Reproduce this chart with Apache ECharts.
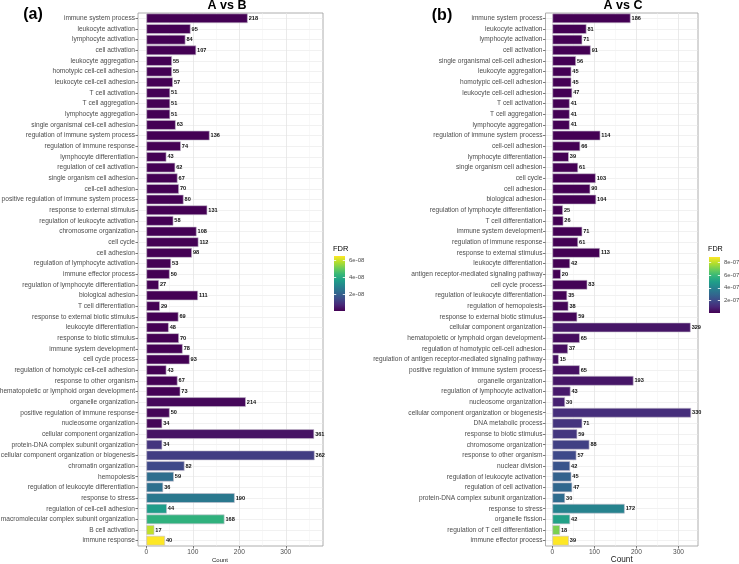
<!DOCTYPE html>
<html>
<head>
<meta charset="utf-8">
<script src="https://cdn.jsdelivr.net/npm/echarts@6/dist/echarts.min.js"></script>
<style>html,body{margin:0;padding:0;background:#fff;}#c{width:739px;height:564px;}</style>
</head>
<body>
<div id="c"></div>
<script>
const catsA = ["immune system process","leukocyte activation","lymphocyte activation","cell activation","leukocyte aggregation","homotypic cell-cell adhesion","leukocyte cell-cell adhesion","T cell activation","T cell aggregation","lymphocyte aggregation","single organismal cell-cell adhesion","regulation of immune system process","regulation of immune response","lymphocyte differentiation","regulation of cell activation","single organism cell adhesion","cell-cell adhesion","positive regulation of immune system process","response to external stimulus","regulation of leukocyte activation","chromosome organization","cell cycle","cell adhesion","regulation of lymphocyte activation","immune effector process","regulation of lymphocyte differentiation","biological adhesion","T cell differentiation","response to external biotic stimulus","leukocyte differentiation","response to biotic stimulus","immune system development","cell cycle process","regulation of homotypic cell-cell adhesion","response to other organism","hematopoietic or lymphoid organ development","organelle organization","positive regulation of immune response","nucleosome organization","cellular component organization","protein-DNA complex subunit organization","cellular component organization or biogenesis","chromatin organization","hemopoiesis","regulation of leukocyte differentiation","response to stress","regulation of cell-cell adhesion","macromolecular complex subunit organization","B cell activation","immune response"];
const countA = [218,95,84,107,55,55,57,51,51,51,63,136,74,43,62,67,70,80,131,58,108,112,98,53,50,27,111,29,69,48,70,78,93,43,67,73,214,50,34,361,34,362,82,59,36,190,44,168,17,40];
const fdrA = [1e-20,2e-18,3e-17,5e-17,1e-15,1e-15,2e-15,3e-14,3e-14,3e-14,5e-14,8e-14,1e-13,2e-13,3e-13,4e-13,5e-13,6e-13,8e-13,1e-12,2e-12,3e-12,4e-12,6e-12,8e-12,1e-11,1.2e-11,1.5e-11,2e-11,3e-11,4e-11,6e-11,8e-11,1e-10,1.5e-10,2.5e-10,1.3e-9,6.5e-10,7e-10,3.3e-9,9.8e-9,1.17e-8,1.43e-8,2.34e-8,2.4e-8,2.6e-8,3.58e-8,4.16e-8,5.9e-8,6.5e-8];

const catsB = ["immune system process","leukocyte activation","lymphocyte activation","cell activation","single organismal cell-cell adhesion","leukocyte aggregation","homotypic cell-cell adhesion","leukocyte cell-cell adhesion","T cell activation","T cell aggregation","lymphocyte aggregation","regulation of immune system process","cell-cell adhesion","lymphocyte differentiation","single organism cell adhesion","cell cycle","cell adhesion","biological adhesion","regulation of lymphocyte differentiation","T cell differentiation","immune system development","regulation of immune response","response to external stimulus","leukocyte differentiation","antigen receptor-mediated signaling pathway","cell cycle process","regulation of leukocyte differentiation","regulation of hemopoiesis","response to external biotic stimulus","cellular component organization","hematopoietic or lymphoid organ development","regulation of homotypic cell-cell adhesion","regulation of antigen receptor-mediated signaling pathway","positive regulation of immune system process","organelle organization","regulation of lymphocyte activation","nucleosome organization","cellular component organization or biogenesis","DNA metabolic process","response to biotic stimulus","chromosome organization","response to other organism","nuclear division","regulation of leukocyte activation","regulation of cell activation","protein-DNA complex subunit organization","response to stress","organelle fission","regulation of T cell differentiation","immune effector process"];
const countB = [186,81,71,91,56,45,45,47,41,41,41,114,66,39,61,103,90,104,25,26,71,61,113,42,20,83,35,38,59,329,65,37,15,65,193,43,30,330,71,59,88,57,42,45,47,30,172,42,18,39];
const fdrB = [1e-18,2e-16,3e-15,5e-15,1e-14,2e-14,2e-14,3e-14,5e-14,5e-14,5e-14,8e-14,1e-13,2e-13,3e-13,4e-13,5e-13,6e-13,8e-13,1e-12,2e-12,3e-12,4e-12,6e-12,8e-12,5e-9,7e-9,9e-9,1.2e-8,5.3e-8,2.7e-8,3.1e-8,3.6e-8,4.0e-8,5.3e-8,6.2e-8,8.0e-8,1.16e-7,1.34e-7,1.42e-7,1.69e-7,1.96e-7,2.31e-7,2.76e-7,2.94e-7,3.12e-7,4.0e-7,5.07e-7,7.12e-7,8.9e-7];

const countTicks = [0,100,200,300];
const countMinor = [50,150,250,350];
const fdrTicksA = [2e-8,4e-8,6e-8];
const fdrTicksB = [2e-7,4e-7,6e-7,8e-7];
const fdrMaxA = 6.5e-8;
const fdrMaxB = 8.9e-7;

const viridis = ['#440154','#482878','#3E4A89','#31688E','#26828E','#1F9E89','#35B779','#6DCD59','#B4DE2C','#FDE725'];
const FONT = "'Liberation Sans', Arial, Helvetica, sans-serif";

function sci(v){
  const s = v.toExponential(0).split('e');
  const sign = s[1][0];
  const d = s[1].slice(1).padStart(2,'0');
  return s[0] + 'e' + sign + d;
}
function rangeOf(arr){ const m = Math.max.apply(null, arr); return [-0.05*m, 1.05*m]; }

const rA = rangeOf(countA), rB = rangeOf(countB);

function mainX(grid, r, padR, nameSize, nameGap){
  return {
    type:'value', gridIndex:grid, min:r[0], max:r[1], position:'bottom',
    axisLine:{show:false, onZero:false},
    axisTick:{show:true, length:2.5, customValues:countTicks, lineStyle:{color:'#555', width:0.8}},
    axisLabel:{customValues:countTicks, fontSize:6.6, color:'#4d4d4d', margin:2.5, fontFamily:FONT},
    splitLine:{show:true, customValues:countTicks, lineStyle:{color:'#e4e4e4', width:0.8}},
    name:'Count', nameLocation:'middle', nameGap:nameGap, nameMoveOverlap:false,
    nameTextStyle:{fontSize:nameSize, color:'#1a1a1a', fontFamily:FONT, padding:[0,padR,0,0]}
  };
}
function minorX(grid, r){
  return {
    type:'value', gridIndex:grid, min:r[0], max:r[1], position:'top',
    axisLine:{show:false, onZero:false}, axisLabel:{show:false},
    axisTick:{show:false, customValues:countMinor},
    splitLine:{show:true, customValues:countMinor, lineStyle:{color:'#f1f1f1', width:0.5}}
  };
}
function catY(grid, cats){
  return {
    type:'category', gridIndex:grid, data:cats, inverse:true,
    axisLine:{show:false, onZero:false},
    axisTick:{show:true, alignWithLabel:true, length:2.5, lineStyle:{color:'#555', width:0.8}},
    axisLabel:{interval:0, fontSize:6.6, color:'#4d4d4d', margin:3, fontFamily:FONT},
    splitLine:{show:false}
  };
}
function gridY(grid, cats){
  const idx = cats.map((_, i) => i);
  return {
    type:'value', gridIndex:grid, min:-0.5, max:cats.length-0.5, inverse:true, position:'right',
    axisLine:{show:false, onZero:false}, axisLabel:{show:false},
    axisTick:{show:false, customValues:idx},
    splitLine:{show:true, customValues:idx, lineStyle:{color:'#e8e8e8', width:0.6}}
  };
}
function cbY(grid, max, ticks, right){
  return {
    type:'value', gridIndex:grid, min:0, max:max, position: right ? 'right' : 'left', z:10,
    axisLine:{show:false, onZero:false},
    axisTick:{show:true, inside:true, length:2.2, customValues:ticks, lineStyle:{color:'#ffffff', width:0.8}},
    axisLabel:{show:right, customValues:ticks, formatter:sci, fontSize:6, color:'#4d4d4d', margin:4, fontFamily:FONT},
    splitLine:{show:false}
  };
}
function cbX(grid){
  return {type:'category', gridIndex:grid, data:['FDR'], show:false, axisLine:{onZero:false}};
}
function barSeries(xi, yi, cats, counts, fdrs){
  return {
    type:'bar', xAxisIndex:xi, yAxisIndex:yi,
    data: cats.map((c, i) => [counts[i], c, fdrs[i]]),
    encode:{x:0, y:1},
    barCategoryGap:'10%',
    itemStyle:{borderColor:'#c6c0cc', borderWidth:0.6},
    label:{show:true, position:'right', distance:1, formatter:p => p.value[0],
      fontSize:5.6, fontWeight:'bold', color:'#111', fontFamily:FONT},
    z:2
  };
}
function colorbarSeries(xi, yi, max){
  const stops = viridis.map((c, i) => ({offset: i/(viridis.length-1), color: c}));
  return {
    type:'bar', xAxisIndex:xi, yAxisIndex:yi, barWidth:'100%', silent:true,
    data:[max],
    itemStyle:{color: new echarts.graphic.LinearGradient(0, 1, 0, 0, stops)},
    z:2
  };
}
function txt(x, y, s, size, bold, align){
  return {type:'text', x:x, y:y, silent:true,
    style:{text:s, fontSize:size, fontWeight: bold ? 'bold' : 'normal', fontFamily:FONT,
      fill:'#000', textAlign:align || 'center', textVerticalAlign:'middle'}};
}

const chart = echarts.init(document.getElementById('c'), null, {renderer:'canvas'});
const option = {
  animation:false,
  backgroundColor:'#ffffff',
  textStyle:{fontFamily:FONT},
  grid:[
    {left:138, top:13, width:185, height:533, show:true, borderColor:'#9a9a9a', borderWidth:0.8, backgroundColor:'#fff', outerBoundsMode:'none', containLabel:false},
    {left:545.5, top:13, width:152.5, height:533, show:true, borderColor:'#9a9a9a', borderWidth:0.8, backgroundColor:'#fff', outerBoundsMode:'none', containLabel:false},
    {left:334, top:256, width:11, height:55, show:false, outerBoundsMode:'none'},
    {left:709, top:257, width:11, height:56, show:false, outerBoundsMode:'none'}
  ],
  xAxis:[
    mainX(0, rA, 21, 6, 11),
    minorX(0, rA),
    mainX(1, rB, 0, 8.2, 10),
    minorX(1, rB),
    cbX(2),
    cbX(3)
  ],
  yAxis:[
    catY(0, catsA), gridY(0, catsA),
    catY(1, catsB), gridY(1, catsB),
    cbY(2, fdrMaxA, fdrTicksA, true), cbY(2, fdrMaxA, fdrTicksA, false),
    cbY(3, fdrMaxB, fdrTicksB, true), cbY(3, fdrMaxB, fdrTicksB, false)
  ],
  visualMap:[
    {type:'continuous', show:false, seriesIndex:0, dimension:2, min:0, max:fdrMaxA, inRange:{color:viridis}},
    {type:'continuous', show:false, seriesIndex:1, dimension:2, min:0, max:fdrMaxB, inRange:{color:viridis}}
  ],
  series:[
    barSeries(0, 0, catsA, countA, fdrA),
    barSeries(2, 2, catsB, countB, fdrB),
    colorbarSeries(4, 4, fdrMaxA),
    colorbarSeries(5, 6, fdrMaxB)
  ],
  graphic:[
    txt(33, 15, '(a)', 16, true),
    txt(442, 16, '(b)', 16, true),
    txt(227, 6, 'A vs B', 12.5, true),
    txt(623, 6, 'A vs C', 12.5, true),
    txt(333, 249, 'FDR', 7.5, false, 'left'),
    txt(708, 249, 'FDR', 7.2, false, 'left')
  ]
};
chart.setOption(option);
</script>
</body>
</html>
